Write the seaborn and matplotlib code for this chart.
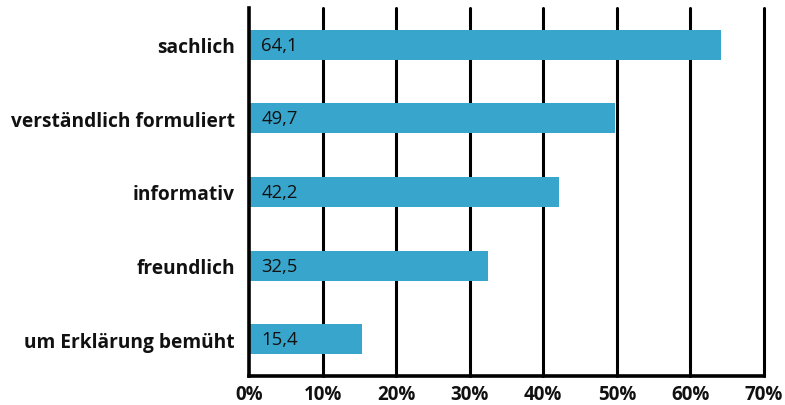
import matplotlib
matplotlib.use("Agg")
import matplotlib.pyplot as plt
import seaborn as sns
import pandas as pd
import numpy as np
from matplotlib.ticker import FixedLocator, FuncFormatter

categories = ["sachlich", "verständlich formuliert", "informativ", "freundlich", "um Erklärung bemüht"]
values = [64.1, 49.7, 42.2, 32.5, 15.4]
value_labels = ["64,1", "49,7", "42,2", "32,5", "15,4"]
x_ticks = [0, 10, 20, 30, 40, 50, 60, 70]

sns.set_theme(style="white")
plt.rcParams["font.family"] = ["Open Sans", "DejaVu Sans"]

df = pd.DataFrame({"cat": categories, "val": values})

fig = plt.figure(figsize=(7.85, 4.06), dpi=100)
ax = fig.add_axes([249/785, 1 - 377/406, (764 - 249)/785, (377 - 9)/406])

for x in x_ticks[1:]:
    ax.axvline(x, color="black", lw=2.2, zorder=0, clip_on=False)

sns.barplot(data=df, x="val", y="cat", color="#38a6cc", saturation=1, width=0.41,
            linewidth=0, ax=ax, zorder=2)

for i, lab in enumerate(value_labels):
    ax.annotate(lab, xy=(0, i), xytext=(9, 0), textcoords="offset points",
                ha="left", va="center", fontsize=13.3, color="#111111", zorder=3)

ax.set_xlim(0, 70)
ax.set_ylim(4.5, -0.5)
ax.set_xlabel("")
ax.set_ylabel("")
ax.xaxis.set_major_locator(FixedLocator(x_ticks))
ax.xaxis.set_major_formatter(FuncFormatter(lambda v, p: f"{int(v)}%"))
ax.yaxis.set_minor_locator(FixedLocator(np.arange(-0.5, 5.0, 1.0)))

for s in ["top", "right"]:
    ax.spines[s].set_visible(False)
for s in ["left", "bottom"]:
    ax.spines[s].set_color("black")
    ax.spines[s].set_linewidth(2.6)

ax.tick_params(axis="x", which="major", direction="out", length=5, width=2.4,
               color="black", labelsize=13.5, pad=1)
ax.tick_params(axis="y", which="major", length=0, labelsize=13.8, pad=10)
ax.tick_params(axis="y", which="minor", direction="out", length=5, width=2.4, color="black")
for t in ax.get_xticklabels() + ax.get_yticklabels():
    t.set_fontweight("bold")
    t.set_color("#111111")
for t in ax.get_yticklabels():
    t.set_y(t.get_position()[1])
    t.set_verticalalignment("center_baseline")

fig.savefig("out.png", dpi=100)
